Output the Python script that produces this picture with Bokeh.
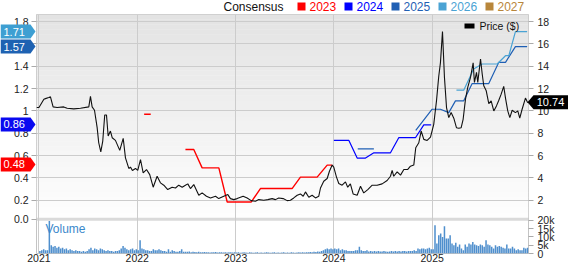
from bokeh.plotting import figure
from bokeh.models import Range1d, LinearAxis, FixedTicker, BoxAnnotation, Label
from bokeh.core.properties import value
from bokeh.embed import file_html
from bokeh.resources import INLINE

# ---------------- data ----------------
years = [2021, 2022, 2023, 2024, 2025]

price_t = [2020.975, 2021.0, 2021.05, 2021.066, 2021.10, 2021.117, 2021.144, 2021.185, 2021.252, 2021.287,
           2021.354, 2021.422, 2021.507, 2021.524, 2021.541, 2021.565, 2021.592, 2021.608, 2021.629, 2021.649,
           2021.669, 2021.687, 2021.704, 2021.727, 2021.745, 2021.778, 2021.822, 2021.857, 2021.880, 2021.914,
           2021.931, 2021.951, 2021.982, 2022.005, 2022.033, 2022.060, 2022.094, 2022.127, 2022.162, 2022.202,
           2022.236, 2022.270, 2022.310, 2022.355, 2022.389, 2022.422, 2022.457, 2022.490, 2022.514, 2022.541,
           2022.575, 2022.626, 2022.660, 2022.704, 2022.745, 2022.796, 2022.829, 2022.880, 2022.921, 2022.948,
           2022.982, 2023.016, 2023.077, 2023.118, 2023.159, 2023.202, 2023.236, 2023.287, 2023.328, 2023.372,
           2023.406, 2023.439, 2023.484, 2023.525, 2023.558, 2023.592, 2023.627, 2023.660, 2023.688, 2023.711,
           2023.745, 2023.779, 2023.813, 2023.846, 2023.864, 2023.897, 2023.932, 2023.955, 2023.983, 2023.999,
           2024.026, 2024.050, 2024.084, 2024.118, 2024.141, 2024.168, 2024.196, 2024.237, 2024.271, 2024.304,
           2024.345, 2024.390, 2024.440, 2024.491, 2024.542, 2024.576, 2024.593, 2024.609, 2024.644, 2024.678,
           2024.712, 2024.752, 2024.779, 2024.813, 2024.833, 2024.864, 2024.888, 2024.915, 2024.949, 2024.983,
           2025.016, 2025.044, 2025.067, 2025.084, 2025.105, 2025.125, 2025.146, 2025.169, 2025.193, 2025.220,
           2025.247, 2025.271, 2025.295, 2025.315, 2025.339, 2025.362, 2025.390, 2025.417, 2025.430, 2025.451,
           2025.464, 2025.492, 2025.509, 2025.525, 2025.550, 2025.576, 2025.600, 2025.627, 2025.654, 2025.678,
           2025.702, 2025.728, 2025.746, 2025.769, 2025.790, 2025.814, 2025.847, 2025.871, 2025.891, 2025.915,
           2025.949, 2025.972]
price_v = [10.3, 10.3, 11.05, 11.1, 11.2, 11.26, 10.36, 10.3, 10.36, 10.24,
           10.18, 10.24, 10.36, 11.3, 10.36, 10.06, 8.5, 7.15, 6.34, 7.3,
           9.64, 9.64, 7.75, 8.2, 7.6, 7.36, 6.47, 7.55, 5.8, 4.85,
           4.97, 4.67, 4.85, 4.67, 5.65, 4.45, 4.75, 4.3, 3.17, 4.15,
           3.56, 3.35, 2.96, 3.17, 3.1, 3.35, 3.17, 3.35, 3.47, 3.05,
           3.41, 2.45, 2.66, 2.36, 2.21, 2.36, 2.15, 2.36, 2.51, 2.15,
           2.06, 2.15, 2.36, 2.21, 1.97, 1.91, 2.06, 2.0, 2.06, 2.15,
           2.06, 2.21, 2.15, 1.97, 2.0, 2.21, 2.45, 2.57, 2.36, 2.75,
           2.27, 2.45, 2.21, 2.36, 3.1, 3.7, 3.95, 4.6, 5.15, 4.97,
           4.1, 3.5, 3.35, 3.65, 3.17, 3.47, 2.57, 2.45, 3.26, 2.66,
           2.96, 3.35, 3.35, 3.47, 3.77, 4.15, 4.67, 4.15, 4.54, 4.25,
           4.76, 4.76, 5.05, 5.15, 6.7, 7.15, 8.2, 7.45, 7.36, 7.66,
           8.8, 10.9, 13.1, 14.3, 17.1, 13.0, 10.3, 9.4, 9.85, 9.35,
           8.5, 8.45, 8.5, 9.25, 11.05, 12.1, 13.0, 14.3, 12.55, 13.45,
           12.55, 14.65, 13.3, 12.25, 11.8, 10.65, 10.9, 10.0, 10.45, 10.96,
           11.5, 12.2, 11.15, 10.0, 9.4, 10.06, 9.85, 10.0, 9.35, 10.15,
           11.15, 10.74]

# consensus estimates (left scale)
c2023_early_t = [2022.07, 2022.137]
c2023_early_v = [0.97, 0.97]
c2023_t = [2022.49, 2022.575, 2022.66, 2022.83, 2022.915, 2023.16, 2023.253, 2023.575, 2023.66, 2023.83, 2023.932, 2023.983]
c2023_v = [0.655, 0.655, 0.49, 0.49, 0.185, 0.185, 0.305, 0.305, 0.407, 0.407, 0.515, 0.515]
c2024_t = [2024.0, 2024.153, 2024.237, 2024.322, 2024.407, 2024.576, 2024.66, 2024.83, 2024.915, 2024.99]
c2024_v = [0.736, 0.736, 0.578, 0.578, 0.625, 0.625, 0.76, 0.76, 0.875, 0.875]
c2025_early_t = [2024.243, 2024.407]
c2025_early_v = [0.66, 0.66]
c2025_t = [2024.833, 2025.0, 2025.084, 2025.169, 2025.237, 2025.321, 2025.407, 2025.576, 2025.678, 2025.746, 2025.847, 2025.966]
c2025_v = [0.826, 1.015, 1.015, 0.985, 1.09, 1.09, 1.245, 1.245, 1.435, 1.435, 1.575, 1.575]
c2026_t = [2025.247, 2025.321, 2025.422, 2025.509, 2025.661, 2025.746, 2025.78, 2025.847, 2025.966]
c2026_v = [1.186, 1.186, 1.375, 1.42, 1.42, 1.494, 1.494, 1.71, 1.71]

legend_years = ["2023", "2024", "2025", "2026", "2027"]
tag_texts = ["1.71", "1.57", "0.86", "0.48"]
last_price_text = "10.74"

left_tick_labels = ["0.0", "0.2", "0.4", "0.6", "0.8", "1", "1.2", "1.4", "1.6", "1.8"]
right_tick_labels = ["2", "4", "6", "8", "10", "12", "14", "16", "18"]
vol_tick_values = [0, 5, 10, 15, 20]          # thousands
vol_tick_labels = ["0", "5k", "10k", "15k", "20k"]

# weekly volume, thousands of shares
vol_2021 = [1.5, 2, 2.5, 2, 2, 19.6, 5, 4, 4.5, 3.5, 4, 3, 3.5, 2.5, 3, 2, 2.5, 2, 1.5, 2, 1.5, 1.5, 1, 1.5, 1, 1.5,
            2.5, 3.5, 2, 3, 2.5, 2, 3, 2.5, 2, 1.5, 2, 1.5, 1.5, 1, 1.5, 1.5, 2, 3, 4.5, 3.5, 2.5, 2, 2.5, 3, 2, 2.5]
vol_2022 = [2, 8, 3, 2.5, 2, 2, 1.5, 1.5, 2.5, 2, 2, 2.5, 2, 1.5, 1.5, 1, 2.5, 1, 2, 1.5, 1, 1, 1.5, 2.5, 1, 1,
            1, 1.2, 0.8, 1, 0.9, 0.8, 1, 0.7, 0.8, 0.9, 0.7, 0.8, 0.6, 0.8, 0.7, 0.9, 0.6, 0.7, 0.8, 0.6, 0.7, 0.6, 0.8, 0.7, 0.6, 0.7]
vol_2023 = [0.6, 0.7, 0.5, 0.6, 0.8, 0.6, 0.5, 0.7, 0.6, 0.5, 0.6, 0.7, 0.5, 0.6, 0.5, 0.6, 0.8, 0.6, 0.5, 0.6, 0.7, 0.5, 0.6, 0.5, 0.6, 0.7,
            0.5, 0.6, 0.5, 0.7, 0.6, 0.5, 0.6, 0.8, 0.6, 0.7, 0.6, 0.8, 0.7, 0.9, 0.8, 1, 0.9, 1.2, 1, 1.5, 2, 2.5, 3, 2.5, 3, 2.5]
vol_2024 = [3, 2.5, 3, 2, 2.5, 2, 2, 1.5, 1.5, 1.5, 1.5, 2, 2, 4, 2, 1.5, 1.5, 2, 1.2, 1.5, 1.2, 1.5, 1.2, 1.5, 1.2, 1.2,
            1.5, 1.2, 1, 1.2, 1.5, 1.2, 1.5, 1.2, 1.5, 1.2, 1.5, 1.5, 1.2, 1.5, 1.5, 1.5, 2, 1.5, 3, 2.5, 3, 3, 2.5, 3, 3.5, 2.5]
vol_2025 = [2.5, 17, 6, 11, 12, 10, 16.4, 9, 9, 11, 6, 5, 6.5, 4, 5.5, 3, 2, 5.5, 4, 6, 5.5, 7, 5.5, 5, 4.5, 5.5,
            5, 4, 8, 5.5, 5, 4, 3, 5, 4, 4.5, 4, 3.5, 3, 5.5, 3, 3, 4, 3, 2, 2.5, 2, 2, 3.5, 3, 3.5]

# ---------------- styling / layout ----------------
FONT = "Liberation Sans"
W, H = 568, 264
BL, BR, BT = 36, 40, 14
FRAME_H = 238
PXU = 11.125                      # pixels per price unit
X0, X1 = 2020.975, 2025.98
Y1 = 18.63
Y0 = Y1 - FRAME_H / PXU
U = 1.0 / PXU                     # price units per pixel
VOL_K = 33.0 * U / 20.0           # price units per thousand shares
VMAX = (Y1 - Y0) / VOL_K
BAND_BOT, BAND_TOP = 0.16, 0.43
BAND_MID = 0.5 * (BAND_BOT + BAND_TOP)

C2023, C2024, C2025, C2026, C2027 = "#ff0000", "#0000ff", "#1f5fb4", "#4aa3d4", "#b8863b"
GRID = "#cccccc"

p = figure(width=W, height=H, output_backend="svg", toolbar_location=None,
           x_range=Range1d(X0, X1), y_range=Range1d(Y0, Y1),
           min_border_left=BL, min_border_right=BR, min_border_top=BT, min_border_bottom=0,
           background_fill_color="white", border_fill_color="white",
           outline_line_color="#c4c4c4")
p.extra_y_ranges = {"vol": Range1d(0, VMAX), "cons": Range1d(Y0 / 10.0, Y1 / 10.0)}

# gradient background of the price panel
n = 40
for i in range(n):
    b = BAND_TOP + (Y1 - BAND_TOP) * i / n
    t = BAND_TOP + (Y1 - BAND_TOP) * (i + 1) / n + 0.02
    f = (i + 0.5) / n
    c = int(round(254 - f * (254 - 227)))
    p.add_layout(BoxAnnotation(bottom=b, top=t, fill_color="#%02x%02x%02x" % (c, c, c), fill_alpha=1.0,
                               line_color=None, level="image"))
p.add_layout(BoxAnnotation(bottom=BAND_BOT, top=BAND_TOP, fill_color="#dadada", fill_alpha=1.0,
                           line_color=None, level="image"))

# grids
p.xgrid.ticker = FixedTicker(ticks=years)
p.ygrid.ticker = FixedTicker(ticks=[2, 4, 6, 8, 10, 12, 14, 16, 18])
for g in (p.xgrid, p.ygrid):
    g.grid_line_color = GRID
    g.grid_line_width = 1

# axes
xa = p.xaxis[0]
xa.ticker = FixedTicker(ticks=years)
xa.major_label_overrides = {y: str(y) for y in years}
xa.axis_line_color = None
xa.major_tick_line_color = None
xa.major_tick_out = 0
xa.major_tick_in = 0
xa.minor_tick_line_color = None
xa.major_label_standoff = 0
xa.major_label_text_font = FONT
xa.major_label_text_font_size = "10.5px"
xa.major_label_text_color = "#222222"

left_ticks = [BAND_MID] + [2, 4, 6, 8, 10, 12, 14, 16, 18]
ya = p.yaxis[0]
ya.ticker = FixedTicker(ticks=left_ticks)
ya.major_label_overrides = {t: s for t, s in zip(left_ticks, left_tick_labels)}
ya.axis_line_color = None
ya.major_tick_line_color = "#aaaaaa"
ya.major_tick_out = 5
ya.major_tick_in = 0
ya.minor_tick_line_color = None
ya.major_label_standoff = 3
ya.major_label_text_font = FONT
ya.major_label_text_font_size = "10.5px"
ya.major_label_text_color = "#222222"

vol_tick_pos = [Y0 + v * VOL_K for v in vol_tick_values]
right_ticks = [2, 4, 6, 8, 10, 12, 14, 16, 18] + vol_tick_pos
right_labels = right_tick_labels + vol_tick_labels
ra = LinearAxis(ticker=FixedTicker(ticks=right_ticks),
                major_label_overrides={t: s for t, s in zip(right_ticks, right_labels)})
ra.axis_line_color = None
ra.major_tick_line_color = "#aaaaaa"
ra.major_tick_out = 5
ra.major_tick_in = 0
ra.minor_tick_line_color = None
ra.major_label_standoff = 4
ra.major_label_text_font = FONT
ra.major_label_text_font_size = "10.5px"
ra.major_label_text_color = "#222222"
p.add_layout(ra, "right")

# volume bars
vol_all = vol_2021 + vol_2022 + vol_2023 + vol_2024 + vol_2025
vol_t = [years[i // 52] + (i % 52 + 0.5) / 52.0 for i in range(len(vol_all))]
p.vbar(x=vol_t, top=vol_all, bottom=0, width=0.8 / 52.0, y_range_name="vol",
       fill_color="#4f8fcd", line_color=None)

# consensus lines
p.line(c2023_early_t, c2023_early_v, y_range_name="cons", line_color=C2023, line_width=1.4)
p.line(c2023_t, c2023_v, y_range_name="cons", line_color=C2023, line_width=1.4)
p.line(c2024_t, c2024_v, y_range_name="cons", line_color=C2024, line_width=1.2)
p.line(c2025_early_t, c2025_early_v, y_range_name="cons", line_color=C2025, line_width=1.2)
p.line(c2025_t, c2025_v, y_range_name="cons", line_color=C2025, line_width=1.2)
p.line(c2026_t, c2026_v, y_range_name="cons", line_color=C2026, line_width=1.2)

# price
p.line(price_t, price_v, line_color="#111111", line_width=1.1)

# price legend inside frame
p.add_layout(BoxAnnotation(left=464, right=474, top=23, bottom=28, left_units="canvas", right_units="canvas",
                           top_units="canvas", bottom_units="canvas", fill_color="#000000", fill_alpha=1.0,
                           line_color=None))
p.add_layout(Label(x=479, y=25.5, x_units="canvas", y_units="canvas", text="Price ($)", text_color="#111111",
                   text_font=FONT, text_font_size="10.5px", text_baseline="middle", text_align="left"))
# volume caption
p.add_layout(Label(x=45, y=228, x_units="canvas", y_units="canvas", text="Volume", text_color="#3a88cb",
                   text_font=FONT, text_font_size="12px", text_baseline="middle", text_align="left"))

# ---------------- overlay (tags + top legend, drawn over the axis margins) ----------------
ov = figure(width=W, height=H, output_backend="svg", toolbar_location=None,
            x_range=Range1d(0, W), y_range=Range1d(Y1 - (H - BT) * U, Y1 + BT * U),
            x_axis_location=None, y_axis_location=None, min_border=0,
            min_border_left=0, min_border_right=0, min_border_top=0, min_border_bottom=0,
            background_fill_alpha=0.0, border_fill_alpha=0.0, outline_line_color=None)
ov.extra_y_ranges = {"px": Range1d(H, 0)}
ov.xgrid.visible = False
ov.ygrid.visible = False
ov.styles = {"position": "absolute", "left": "0px", "top": "0px", "pointer-events": "none"}

h = 7 * U
tag_vals = [c2026_v[-1], c2025_v[-1], c2024_v[-1], c2023_v[-1]]
tag_cols = ["#3e9fd2", "#1e62b2", "#0a0af0", "#ff0000"]
for v, txt, col in zip(tag_vals, tag_texts, tag_cols):
    y = v * 10.0
    ov.patch(x=[0, 30, 35, 30, 0], y=[y + h, y + h, y, y - h, y - h], fill_color=col, line_color=None)
    ov.text(x=[3], y=[y], text=[txt], text_color="white", text_font=value(FONT), text_font_size="11px",
            text_baseline="middle", text_align="left")

yl = price_v[-1]
ov.patch(x=[527, 533, 568, 568, 533], y=[yl, yl + h, yl + h, yl - h, yl - h], fill_color="#000000", line_color=None)
ov.text(x=[550], y=[yl], text=[last_price_text], text_color="white", text_font=value(FONT),
        text_font_size="11px", text_baseline="middle", text_align="center")

ov.text(x=[223], y=[6], text=["Consensus"], y_range_name="px", text_color="#111111", text_font=value(FONT),
        text_font_size="12px", text_baseline="middle", text_align="left")
leg_cols = [C2023, C2024, C2025, C2026, C2027]
for k, (yr, col) in enumerate(zip(legend_years, leg_cols)):
    x = 297 + 47 * k
    ov.quad(left=[x], right=[x + 8], top=[2], bottom=[10], y_range_name="px", fill_color=col, line_color=None)
    ov.text(x=[x + 12], y=[6], text=[yr], y_range_name="px", text_color=col, text_font=value(FONT),
            text_font_size="12px", text_baseline="middle", text_align="left")

open("out.html", "w").write(file_html([p, ov], INLINE))
